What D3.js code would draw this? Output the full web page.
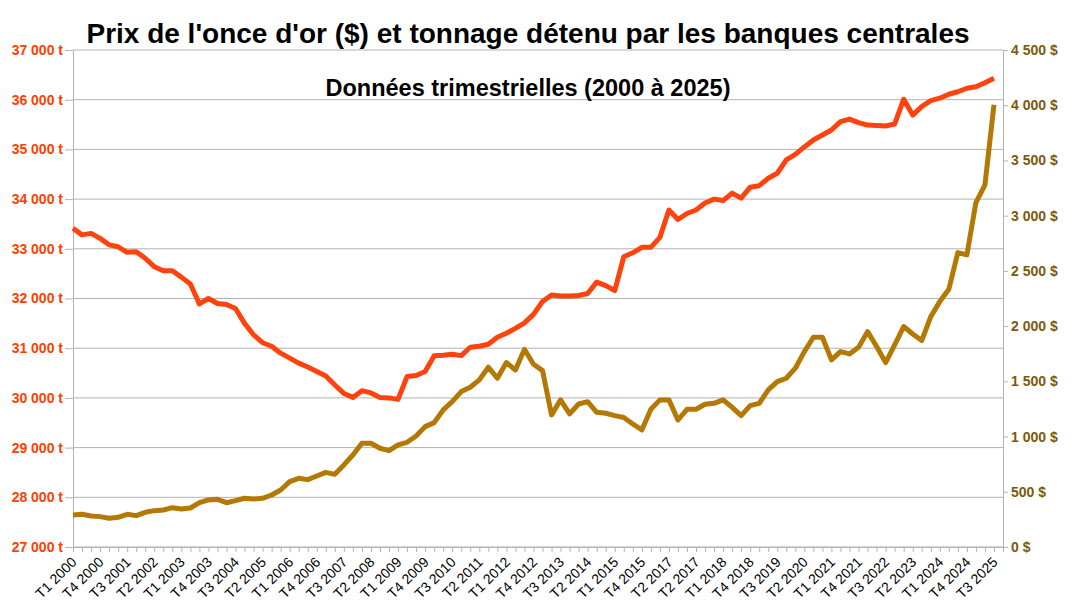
<!DOCTYPE html>
<html>
<head>
<meta charset="utf-8">
<script src="https://cdn.jsdelivr.net/npm/d3@7"></script>
<style>
  body { margin: 0; background: #fff; }
  svg { font-family: 'Liberation Sans', Arial, sans-serif; }
</style>
</head>
<body>
<svg width="1073" height="611"></svg>
<script>
// quarters shown on the x axis (the source repeats "T2 2017" at index 66)
const quarters = [
  'T1 2000', 'T2 2000', 'T3 2000', 'T4 2000', 'T1 2001', 'T2 2001', 'T3 2001', 'T4 2001',
  'T1 2002', 'T2 2002', 'T3 2002', 'T4 2002', 'T1 2003', 'T2 2003', 'T3 2003', 'T4 2003',
  'T1 2004', 'T2 2004', 'T3 2004', 'T4 2004', 'T1 2005', 'T2 2005', 'T3 2005', 'T4 2005',
  'T1 2006', 'T2 2006', 'T3 2006', 'T4 2006', 'T1 2007', 'T2 2007', 'T3 2007', 'T4 2007',
  'T1 2008', 'T2 2008', 'T3 2008', 'T4 2008', 'T1 2009', 'T2 2009', 'T3 2009', 'T4 2009',
  'T1 2010', 'T2 2010', 'T3 2010', 'T4 2010', 'T1 2011', 'T2 2011', 'T3 2011', 'T4 2011',
  'T1 2012', 'T2 2012', 'T3 2012', 'T4 2012', 'T1 2013', 'T2 2013', 'T3 2013', 'T4 2013',
  'T1 2014', 'T2 2014', 'T3 2014', 'T4 2014', 'T1 2015', 'T2 2015', 'T3 2015', 'T4 2015',
  'T1 2016', 'T2 2016', 'T2 2017', 'T4 2016', 'T1 2017', 'T2 2017', 'T3 2017', 'T4 2017',
  'T1 2018', 'T2 2018', 'T3 2018', 'T4 2018', 'T1 2019', 'T2 2019', 'T3 2019', 'T4 2019',
  'T1 2020', 'T2 2020', 'T3 2020', 'T4 2020', 'T1 2021', 'T2 2021', 'T3 2021', 'T4 2021',
  'T1 2022', 'T2 2022', 'T3 2022', 'T4 2022', 'T1 2023', 'T2 2023', 'T3 2023', 'T4 2023',
  'T1 2024', 'T2 2024', 'T3 2024', 'T4 2024', 'T1 2025', 'T2 2025', 'T3 2025', 'T4 2025'
];

// tonnes held by central banks (left axis)
const tonnage = [
  33413, 33280, 33310, 33210, 33080, 33040, 32930, 32940, 32810, 32640,
  32560, 32560, 32430, 32290, 31890, 32000, 31900, 31880, 31800, 31500,
  31270, 31110, 31040, 30900, 30800, 30700, 30620, 30530, 30440, 30260,
  30090, 30010, 30145, 30100, 30010, 30000, 29970, 30430, 30450, 30530,
  30850, 30860, 30880, 30850, 31020, 31040, 31080, 31220, 31300, 31400,
  31510, 31680, 31940, 32070, 32050, 32050, 32060, 32100, 32330, 32260,
  32160, 32840, 32920, 33030, 33030, 33230, 33780, 33590, 33710, 33780,
  33920, 34000, 33970, 34120, 34020, 34240, 34270, 34420, 34520, 34790,
  34900, 35050, 35190, 35290, 35390, 35560, 35610, 35540, 35490, 35480,
  35470, 35510, 36010, 35690, 35860, 35980, 36030, 36110, 36160, 36230,
  36260, 36340, 36430
];

// price of an ounce in $ (right axis)
const goldPrice = [
  290, 296, 281, 275, 260, 269, 296, 284, 314, 329,
  335, 356, 344, 353, 401, 426, 432, 401, 420, 441,
  435, 441, 471, 516, 592, 622, 610, 643, 676, 658,
  743, 833, 939, 939, 894, 872, 924, 948, 1005, 1090,
  1126, 1241, 1316, 1407, 1446, 1513, 1628, 1528, 1670, 1603,
  1790, 1655, 1597, 1196, 1332, 1205, 1295, 1316, 1220, 1211,
  1190, 1172, 1114, 1060, 1247, 1332, 1332, 1150, 1247, 1247,
  1292, 1301, 1332, 1265, 1190, 1280, 1301, 1422, 1497, 1528,
  1619, 1769, 1899, 1899, 1694, 1769, 1748, 1809, 1950, 1815,
  1670, 1830, 1996, 1929, 1869, 2086, 2222, 2334, 2666, 2645,
  3119, 3279, 4004
];

const leftTicks = [27000, 28000, 29000, 30000, 31000, 32000, 33000, 34000, 35000, 36000, 37000];
const rightTicks = [0, 500, 1000, 1500, 2000, 2500, 3000, 3500, 4000, 4500];

const title = "Prix de l'once d'or ($) et tonnage détenu par les banques centrales";
const subtitle = 'Données trimestrielles (2000 à 2025)';

const svg = d3.select('svg');
const plot = { left: 73, right: 1003, top: 50, bottom: 547 };

const redColor = '#ff420e';
const goldColor = '#b47804';
const goldText = '#7b5a0c';
const gridColor = '#b3b3b3';

// thousands with a space, like "37 000"
const spaced = (v) => d3.format(',')(v).replace(/,/g, ' ');

const x = d3
  .scalePoint()
  .domain(d3.range(quarters.length))
  .range([plot.left, plot.right]);

const yLeft = d3.scaleLinear().domain([27000, 37000]).range([plot.bottom, plot.top]);
const yRight = d3.scaleLinear().domain([0, 4500]).range([plot.bottom, plot.top]);

// horizontal grid
svg
  .append('g')
  .selectAll('line')
  .data(leftTicks)
  .join('line')
  .attr('x1', plot.left)
  .attr('x2', plot.right)
  .attr('y1', (d) => yLeft(d))
  .attr('y2', (d) => yLeft(d))
  .attr('stroke', gridColor)
  .attr('stroke-width', 1);

// left axis
const gLeft = svg
  .append('g')
  .attr('transform', 'translate(' + plot.left + ',0)')
  .call(
    d3.axisLeft(yLeft)
      .tickValues(leftTicks)
      .tickSize(8)
      .tickPadding(2)
      .tickFormat((d) => spaced(d) + ' t')
  );
gLeft.select('.domain').attr('stroke', gridColor);
gLeft.selectAll('.tick line').attr('stroke', gridColor);
gLeft
  .selectAll('text')
  .attr('fill', '#ff4000')
  .style('font-size', '14px')
  .style('font-weight', 'bold');

// right axis
const gRight = svg
  .append('g')
  .attr('transform', 'translate(' + plot.right + ',0)')
  .call(
    d3.axisRight(yRight)
      .tickValues(rightTicks)
      .tickSize(5)
      .tickPadding(3)
      .tickFormat((d) => spaced(d) + ' $')
  );
gRight.select('.domain').attr('stroke', gridColor);
gRight.selectAll('.tick line').attr('stroke', gridColor);
gRight
  .selectAll('text')
  .attr('fill', goldText)
  .style('font-size', '14px')
  .style('font-weight', 'bold');

// bottom axis, a tick per quarter, a label every third one
const gBottom = svg
  .append('g')
  .attr('transform', 'translate(0,' + plot.bottom + ')')
  .call(
    d3.axisBottom(x)
      .tickSize(5)
      .tickSizeOuter(0)
      .tickFormat((i) => (i % 3 === 0 && i < quarters.length - 1 ? quarters[i] : ''))
  );
gBottom.select('.domain').attr('stroke', gridColor);
gBottom.selectAll('.tick line').attr('stroke', gridColor);
gBottom
  .selectAll('text')
  .attr('x', 0)
  .attr('y', 0)
  .attr('dy', 0)
  .attr('transform', 'translate(4,16) rotate(-45)')
  .attr('fill', '#000')
  .style('text-anchor', 'end')
  .style('font-size', '14px');

// lines
const lineLeft = d3
  .line()
  .x((d, i) => x(i))
  .y((d) => yLeft(d));

const lineRight = d3
  .line()
  .x((d, i) => x(i))
  .y((d) => yRight(d));

svg
  .append('path')
  .datum(tonnage)
  .attr('d', lineLeft)
  .attr('fill', 'none')
  .attr('stroke', redColor)
  .attr('stroke-width', 5)
  .attr('stroke-linejoin', 'round');

svg
  .append('path')
  .datum(goldPrice)
  .attr('d', lineRight)
  .attr('fill', 'none')
  .attr('stroke', goldColor)
  .attr('stroke-width', 5)
  .attr('stroke-linejoin', 'round');

// titles
svg
  .append('text')
  .attr('x', 528)
  .attr('y', 43)
  .attr('text-anchor', 'middle')
  .style('font-size', '28px')
  .style('font-weight', 'bold')
  .text(title);

svg
  .append('text')
  .attr('x', 528)
  .attr('y', 96)
  .attr('text-anchor', 'middle')
  .style('font-size', '23.5px')
  .style('font-weight', 'bold')
  .text(subtitle);
</script>
</body>
</html>
